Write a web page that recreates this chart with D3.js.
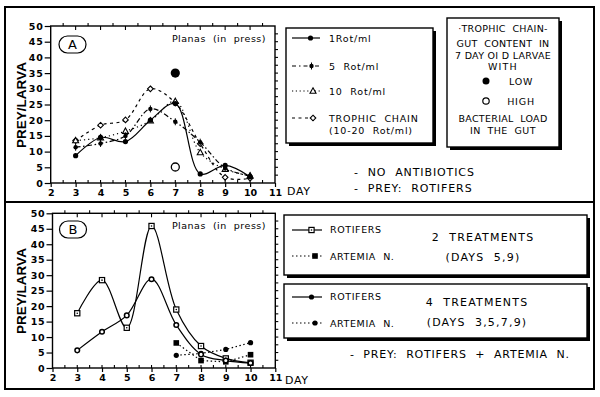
<!DOCTYPE html>
<html><head><meta charset="utf-8">
<script src="https://cdn.jsdelivr.net/npm/d3@7"></script>
<style>
body{margin:0;background:#fff;}
text{font-family:"DejaVu Sans",sans-serif;fill:#000;white-space:pre;}
</style></head>
<body>
<svg id="c" width="600" height="397"></svg>
<script>
// ---------- data ----------
const days = [3,4,5,6,7,8,9,10];
const xTicks = [2,3,4,5,6,7,8,9,10,11];
const yTicks = [0,5,10,15,20,25,30,35,40,45,50];
// Panel A: rotifer feeding rates (prey / larva)
const rot1 = [8.7,14.5,13.2,20,25.3,2.9,5.6,2.0];
const rot5 = [11.4,12.6,15,23.6,19.5,13,4.8,2.2];
const rot10 = [13.5,14.4,16.5,19.8,26,9.7,4.4,2.3];
const trophic = [13.5,18.4,20.1,30,25.5,12.5,1.8,1.5];
const gutDay = [7];
const gutLow = [35];
const gutHigh = [5.1];
// Panel B
const rotif2 = [17.7,28.4,13,45.9,18.9,7.1,3.1,1.7];
const rotif4 = [5.7,11.7,17,28.7,13.9,4.4,2.4,1.6];
const artDays = [7,8,9,10];
const artem2 = [8.1,2.4,2.0,4.3];
const artem4 = [4.1,4.7,6.0,8.2];

const svg = d3.select("#c");
svg.append("rect").attr("width",600).attr("height",397).attr("fill","#fff");
// outer frame + divider
svg.append("rect").attr("x",5).attr("y",7).attr("width",589).attr("height",382)
  .attr("fill","none").attr("stroke","#000").attr("stroke-width",2);
svg.append("line").attr("x1",5).attr("x2",594).attr("y1",202).attr("y2",202)
  .attr("stroke","#000").attr("stroke-width",2);

function axesBox(g, x, y){
  const x0=x.range()[0], x1=x.range()[1], y0=y.range()[0], y1=y.range()[1];
  g.append("rect").attr("x",x0).attr("y",y1).attr("width",x1-x0).attr("height",y0-y1)
    .attr("fill","none").attr("stroke","#000").attr("stroke-width",1.4);
  // left axis
  const la = g.append("g").attr("transform",`translate(${x0},0)`)
    .call(d3.axisLeft(y).tickValues(yTicks).tickSize(6).tickPadding(1));
  // bottom axis
  const ba = g.append("g").attr("transform",`translate(0,${y0})`)
    .call(d3.axisBottom(x).tickValues(xTicks).tickSize(4).tickPadding(2));
  [la,ba].forEach(a=>{
    a.select(".domain").remove();
    a.selectAll("line").attr("stroke","#000").attr("stroke-width",1.2);
    a.selectAll("text").style("font-size","9.5px").style("font-family","DejaVu Sans").style("font-weight","bold");
  });
  la.selectAll("text").style("letter-spacing","0.8px");
  const half = d3.range(2.5,11,0.5);
  // bottom inward ticks
  g.append("g").selectAll("line").data(half).join("line")
    .attr("x1",d=>x(d)).attr("x2",d=>x(d)).attr("y1",y0).attr("y2",y0-3)
    .attr("stroke","#000").attr("stroke-width",1.1);
  // top ticks
  g.append("g").selectAll("line").data(half).join("line")
    .attr("x1",d=>x(d)).attr("x2",d=>x(d))
    .attr("y1",d=>Number.isInteger(d)?y1+4:y1-3).attr("y2",y1)
    .attr("stroke","#000").attr("stroke-width",1.1);
  // right ticks
  g.append("g").selectAll("line").data(d3.range(2.5,50,2.5)).join("line")
    .attr("x1",x1).attr("x2",x1+3).attr("y1",d=>y(d)).attr("y2",d=>y(d))
    .attr("stroke","#000").attr("stroke-width",1.1);
}

function tag(g, cx, cy, letter){
  g.append("rect").attr("x",cx-13.5).attr("y",cy-8.5).attr("width",27).attr("height",17).attr("rx",8.5)
    .attr("fill","none").attr("stroke","#000").attr("stroke-width",1.2);
  g.append("text").attr("x",cx).attr("y",cy+4.5).attr("text-anchor","middle")
    .style("font-size","13px").text(letter);
}

function txt(g,x,y,s,size,anchor,ls){
  return g.append("text").attr("x",x).attr("y",y).attr("text-anchor",anchor||"start")
    .style("font-size",(size||10)+"px").style("letter-spacing",(ls==null?0.8:ls)+"px").text(s);
}

function marker(g, type, px, py){
  if(type==="dot") g.append("circle").attr("cx",px).attr("cy",py).attr("r",2.6).attr("fill","#000");
  else if(type==="dotc"){ g.append("circle").attr("cx",px).attr("cy",py).attr("r",2.2).attr("fill","#000");
    g.append("line").attr("x1",px).attr("x2",px).attr("y1",py-3.5).attr("y2",py+3.5).attr("stroke","#000").attr("stroke-width",1);}
  else if(type==="tri") g.append("path").attr("d",`M${px},${py-3.2}L${px+3},${py+2.2}L${px-3},${py+2.2}Z`)
    .attr("fill","#fff").attr("stroke","#000").attr("stroke-width",1.1);
  else if(type==="dia") g.append("path").attr("d",`M${px},${py-2.8}L${px+2.8},${py}L${px},${py+2.8}L${px-2.8},${py}Z`)
    .attr("fill","#fff").attr("stroke","#000").attr("stroke-width",1.1);
  else if(type==="sqo"){ g.append("rect").attr("x",px-2.6).attr("y",py-2.6).attr("width",5.2).attr("height",5.2)
    .attr("fill","#fff").attr("stroke","#000").attr("stroke-width",1.2);
    g.append("circle").attr("cx",px).attr("cy",py).attr("r",0.8).attr("fill","#000");}
  else if(type==="sqf") g.append("rect").attr("x",px-2.8).attr("y",py-2.8).attr("width",5.6).attr("height",5.6).attr("fill","#000");
  else if(type==="cir") g.append("circle").attr("cx",px).attr("cy",py).attr("r",2.3)
    .attr("fill","#fff").attr("stroke","#000").attr("stroke-width",1.5);
}

function series(g, x, y, xs, ys, dash, mk, curve){
  const line = d3.line().x((d,i)=>x(xs[i])).y(d=>y(d)).curve(curve||d3.curveCatmullRom.alpha(0.5));
  g.append("path").datum(ys).attr("d",line).attr("fill","none").attr("stroke","#000")
    .attr("stroke-width",1.2).attr("stroke-dasharray",dash||null);
  ys.forEach((v,i)=>marker(g,mk,x(xs[i]),y(v)));
}

function legendBox(g,x0,y0,w,h){
  g.append("rect").attr("x",x0+3).attr("y",y0+3).attr("width",w).attr("height",h).attr("fill","#000");
  g.append("rect").attr("x",x0).attr("y",y0).attr("width",w).attr("height",h)
    .attr("fill","#fff").attr("stroke","#000").attr("stroke-width",1.4);
}
function legendSample(g,x0,x1,mx,yy,dash,mk){
  g.append("line").attr("x1",x0).attr("x2",x1).attr("y1",yy).attr("y2",yy)
    .attr("stroke","#000").attr("stroke-width",1.2).attr("stroke-dasharray",dash||null);
  marker(g,mk,mx,yy);
}

// ---------- Panel A ----------
const gA = svg.append("g");
const xA = d3.scaleLinear().domain([2,11]).range([50.7,275]);
const yA = d3.scaleLinear().domain([0,50]).range([183,26]);
axesBox(gA,xA,yA);
gA.append("text").attr("transform","translate(26,105) rotate(-90)").attr("text-anchor","middle")
  .style("font-family","Liberation Sans").style("font-weight","bold").style("font-size","13.5px").text("PREY/LARVA");
tag(gA,72.5,44.5,"A");
txt(gA,266,41.5,"Planas  (in  press)",9.5,"end",0.5);
txt(gA,287,195,"DAY",11,"start",0.6);
series(gA,xA,yA,days,trophic,"3,3.5","dia");
series(gA,xA,yA,days,rot10,"1.2,3","tri");
series(gA,xA,yA,days,rot5,"5,2.5,1.5,2.5","dotc");
series(gA,xA,yA,days,rot1,null,"dot");
gA.append("circle").attr("cx",xA(gutDay[0])).attr("cy",yA(gutLow[0])).attr("r",4.6).attr("fill","#000");
gA.append("circle").attr("cx",xA(gutDay[0])).attr("cy",yA(gutHigh[0])).attr("r",4).attr("fill","#fff")
  .attr("stroke","#000").attr("stroke-width",1.3);

legendBox(gA,286,28,147,115);
legendSample(gA,292,320,310.5,38,null,"dot");
txt(gA,329,41.5,"1Rot/ml",9.5);
legendSample(gA,292,320,311.5,66,"4,3,1.5,3","dotc");
txt(gA,329,69.5,"5  Rot/ml",9.5);
legendSample(gA,292,320,313,91,"1.2,2.6","tri");
txt(gA,329,94.5,"10  Rot/ml",9.5);
legendSample(gA,292,318,313,118,"3,3.5","dia");
txt(gA,329,121.5,"TROPHIC  CHAIN",9.5);
txt(gA,329,134,"(10-20  Rot/ml)",9.5);

legendBox(gA,447,18,112,129);
const bx = 503;
txt(gA,bx,31.5,"·TROPHIC  CHAIN-",9.5,"middle",0.3);
txt(gA,bx,46.5,"GUT  CONTENT  IN",9.5,"middle",0.3);
txt(gA,bx,58.5,"7 DAY OI D LARVAE",9.5,"middle",0.3);
txt(gA,bx,70,"WITH",9.5,"middle",1.2);
gA.append("circle").attr("cx",486).attr("cy",81).attr("r",3.5).attr("fill","#000");
txt(gA,521,84.5,"LOW",9.5,"middle",0.8);
gA.append("circle").attr("cx",486).attr("cy",101).attr("r",3.2).attr("fill","#fff").attr("stroke","#000").attr("stroke-width",1.2);
txt(gA,521,104.5,"HIGH",9.5,"middle",0.8);
txt(gA,bx,121.5,"BACTERIAL  LOAD",9.5,"middle",0.3);
txt(gA,bx,134,"IN  THE  GUT",9.5,"middle",0.4);

txt(gA,354,176,"-  NO  ANTIBIOTICS",11,"start",0.9);
txt(gA,354,192,"-  PREY:  ROTIFERS",11,"start",0.9);

// ---------- Panel B ----------
const gB = svg.append("g");
const xB = d3.scaleLinear().domain([2,11]).range([52.5,275.3]);
const yB = d3.scaleLinear().domain([0,50]).range([368,213.3]);
axesBox(gB,xB,yB);
gB.append("text").attr("transform","translate(26,291) rotate(-90)").attr("text-anchor","middle")
  .style("font-family","Liberation Sans").style("font-weight","bold").style("font-size","13.5px").text("PREY/LARVA");
tag(gB,73,229.5,"B");
txt(gB,266,228.5,"Planas  (in  press)",9.5,"end",0.5);
txt(gB,285,384,"DAY",11,"start",0.6);
series(gB,xB,yB,artDays,artem2,"1.5,2.5","sqf",d3.curveLinear);
series(gB,xB,yB,artDays,artem4,"1.5,2.5","dot",d3.curveLinear);
series(gB,xB,yB,days,rotif2,null,"sqo");
series(gB,xB,yB,days,rotif4,null,"cir");

legendBox(gB,284,215,303,60);
legendSample(gB,292,322,311.5,230,null,"sqo");
txt(gB,330,233,"ROTIFERS",9.5,"start",0.6);
legendSample(gB,292,322,315,256,"1.5,2.5","sqf");
txt(gB,330,259.5,"ARTEMIA  N.",9.5,"start",0.6);
txt(gB,483,241,"2  TREATMENTS",11,"middle",1.2);
txt(gB,483,261,"(DAYS  5,9)",11,"middle",1.2);

legendBox(gB,284,284,303,54);
legendSample(gB,292,322,311.5,297,null,"dot");
txt(gB,330,300,"ROTIFERS",9.5,"start",0.6);
legendSample(gB,292,322,315,323,"1.5,2.5","dot");
txt(gB,330,326.5,"ARTEMIA  N.",9.5,"start",0.6);
txt(gB,477,306,"4  TREATMENTS",11,"middle",1.2);
txt(gB,477,326,"(DAYS  3,5,7,9)",11,"middle",1.2);

txt(gB,350,358,"-  PREY:  ROTIFERS  +  ARTEMIA  N.",11,"start",0.8);
</script>
</body></html>
